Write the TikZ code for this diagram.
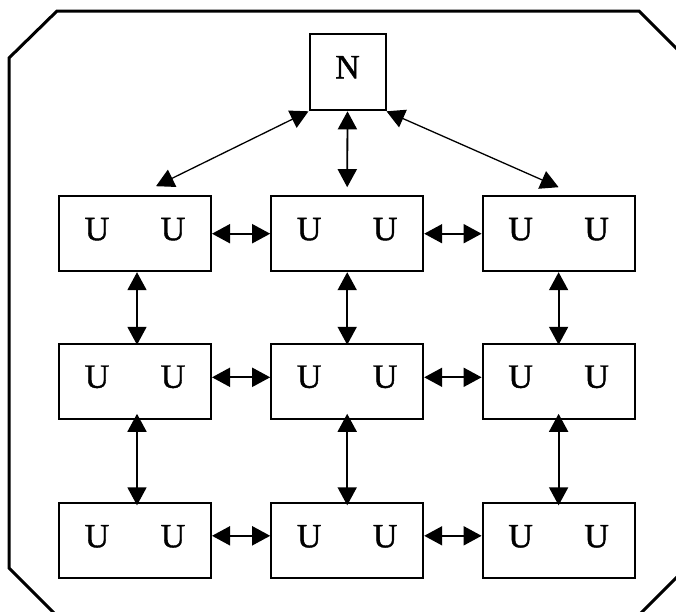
\documentclass[tikz,border=0pt]{standalone}
\usepackage{fontspec}
\setmainfont{Liberation Serif}
\newfontfamily\labelfont[FakeBold=1.2]{Liberation Serif}
\usetikzlibrary{arrows.meta,calc}
\pgfdeclarelayer{background}
\pgfsetlayers{background,main}
\begin{document}
\begin{tikzpicture}[x=1pt,y=-1pt,
  unit/.style={draw,line width=2pt,minimum width=152pt,minimum height=75pt,inner sep=0pt},
  nbox/.style={draw,fill=white,line width=2pt,minimum width=76pt,minimum height=76pt,inner sep=0pt},
  lbl/.style={inner sep=0pt,anchor=base,font=\labelfont\fontsize{34}{40}\selectfont},
  biarrow/.style={{Triangle[length=18pt,width=19pt]}-{Triangle[length=18pt,width=19pt]},line width=1.8pt},
  diag/.style={biarrow,line width=1.3pt},
  frame/.style={line width=3pt,line join=miter}]
\useasboundingbox (0,0) rectangle (676,611);
\clip (0,0) rectangle (676,611);
% outer frame
\draw[frame] (57,11) -- (639,11) -- (686,58) -- (686,568) -- (638,616)
  -- (57,616) -- (9,568) -- (9,58) -- cycle;
% top node
\node[nbox] (N) at (347.5,72.3) {};
\node[lbl] (tN) at ($(N.south)+(0,-33)$) {N};
% unit boxes
\foreach \r/\y in {1/233.7,2/381.3,3/540.8} {
  \foreach \c/\x in {1/135,2/347.2,3/558.6} {
    \node[unit] (b\r\c) at (\x,\y) {};
    \node[lbl] (t\r\c a) at ($(b\r\c.south)+(-38,-32)$) {U};
    \node[lbl] (t\r\c b) at ($(b\r\c.south)+(38,-32)$) {U};
  }
}
% connectors from N (behind N)
\begin{pgfonlayer}{background}
\draw[diag] ($(b11.north)+(21,-9)$) -- (N.south west);
\draw[biarrow] (N.south) -- ($(b12.north)+(0,-8)$);
\draw[diag] (N.south east) -- ($(b13.north)+(0,-8)$);
\end{pgfonlayer}
% horizontal connectors
\draw[biarrow] (b11.east) -- (b12.west);
\draw[biarrow] (b12.east) -- (b13.west);
\draw[biarrow] ($(b21.east)+(0,-4)$) -- ($(b22.west)+(0,-4)$);
\draw[biarrow] ($(b22.east)+(0,-4)$) -- ($(b23.west)+(0,-4)$);
\draw[biarrow] ($(b31.east)+(0,-5)$) -- ($(b32.west)+(0,-5)$);
\draw[biarrow] ($(b32.east)+(0,-5)$) -- ($(b33.west)+(0,-5)$);
% vertical connectors
\draw[biarrow] ($(b11.south)+(2,0)$) -- ($(b21.north)+(2,2)$);
\draw[biarrow] (b12.south) -- ($(b22.north)+(0,2)$);
\draw[biarrow] (b13.south) -- ($(b23.north)+(0,2)$);
\draw[biarrow] ($(b21.south)+(2,-6)$) -- ($(b31.north)+(2,3)$);
\draw[biarrow] ($(b22.south)+(0,-6)$) -- ($(b32.north)+(0,3)$);
\draw[biarrow] ($(b23.south)+(0,-6)$) -- ($(b33.north)+(0,3)$);
\end{tikzpicture}
\end{document}
